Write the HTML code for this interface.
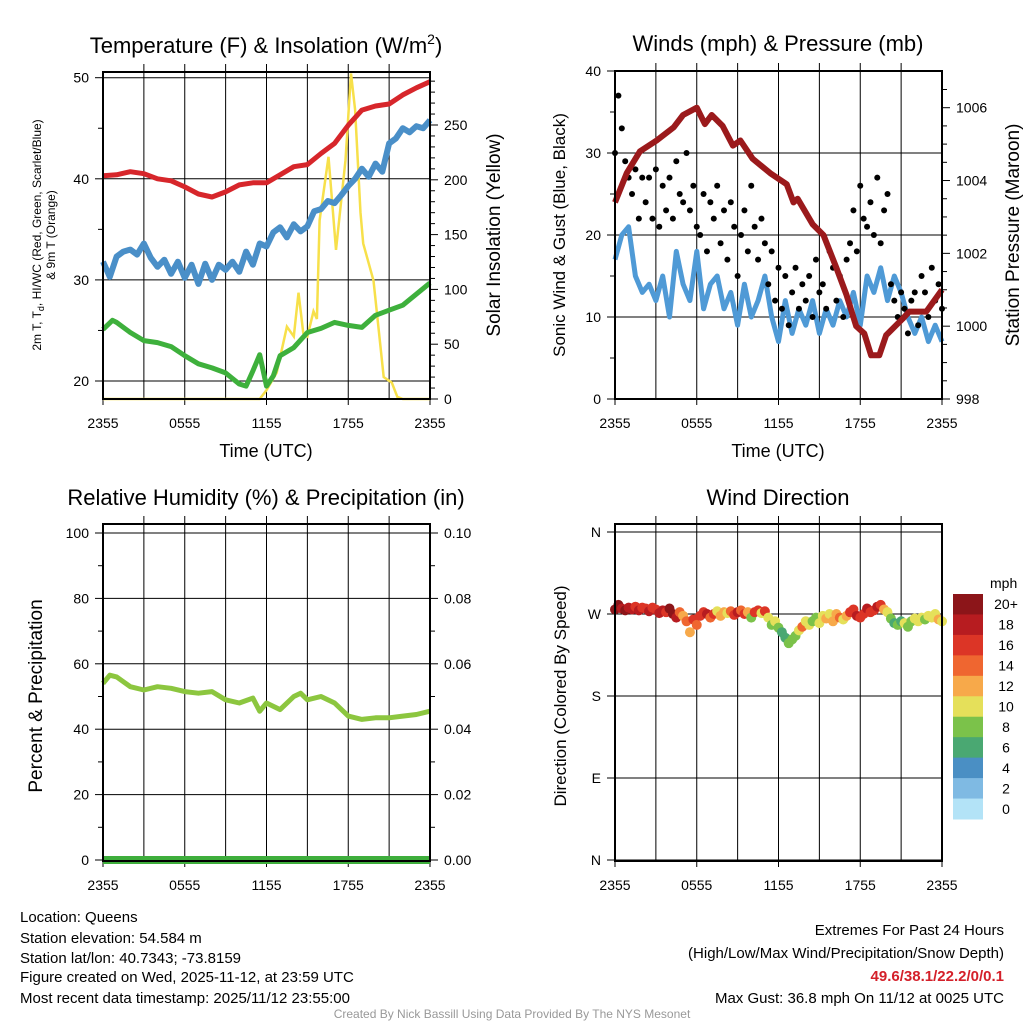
<!DOCTYPE html>
<html><head><meta charset="utf-8"><style>
body{margin:0;background:#fff;width:1024px;height:1024px;overflow:hidden}
svg{font-family:"Liberation Sans",sans-serif}
</style></head><body>
<svg id="s" width="1024" height="1024" viewBox="0 0 1024 1024">
<g id="g"></g>
<text x="266" y="53" font-size="22" text-anchor="middle">Temperature (F) &amp; Insolation (W/m<tspan dy="-9" font-size="14">2</tspan><tspan dy="9">)</tspan></text>
<text x="778" y="51" font-size="22" text-anchor="middle">Winds (mph) &amp; Pressure (mb)</text>
<text x="266" y="505" font-size="22" text-anchor="middle">Relative Humidity (%) &amp; Precipitation (in)</text>
<text x="778" y="505" font-size="22" text-anchor="middle">Wind Direction</text>
<text x="266" y="457" font-size="18" text-anchor="middle">Time (UTC)</text>
<text x="778" y="457" font-size="18" text-anchor="middle">Time (UTC)</text>
<g font-size="12" text-anchor="middle">
<text transform="translate(41,235) rotate(-90)">2m T, T<tspan font-size="9" dy="3">d</tspan><tspan dy="-3">, HI/WC (Red, Green, Scarlet/Blue)</tspan></text>
<text transform="translate(55,235) rotate(-90)">&amp; 9m T (Orange)</text></g>
<text transform="translate(500,235) rotate(-90)" font-size="19" text-anchor="middle">Solar Insolation (Yellow)</text>
<text transform="translate(565,235) rotate(-90)" font-size="17" text-anchor="middle">Sonic Wind &amp; Gust (Blue, Black)</text>
<text transform="translate(1019,235) rotate(-90)" font-size="19" text-anchor="middle">Station Pressure (Maroon)</text>
<text transform="translate(42,696) rotate(-90)" font-size="19" text-anchor="middle">Percent &amp; Precipitation</text>
<text transform="translate(566,696) rotate(-90)" font-size="17" text-anchor="middle">Direction (Colored By Speed)</text>
<text x="990" y="588" font-size="14">mph</text>
<g font-size="15">
<text x="20" y="922">Location: Queens</text>
<text x="20" y="943">Station elevation: 54.584 m</text>
<text x="20" y="963">Station lat/lon: 40.7343; -73.8159</text>
<text x="20" y="982">Figure created on Wed, 2025-11-12, at 23:59 UTC</text>
<text x="20" y="1003">Most recent data timestamp: 2025/11/12 23:55:00</text></g>
<g font-size="15" text-anchor="end">
<text x="1004" y="935">Extremes For Past 24 Hours</text>
<text x="1004" y="958">(High/Low/Max Wind/Precipitation/Snow Depth)</text>
<text x="1004" y="981" fill="#d4202a" font-weight="bold">49.6/38.1/22.2/0/0.1</text>
<text x="1004" y="1003">Max Gust: 36.8 mph On 11/12 at 0025 UTC</text></g>
<text x="512" y="1018" font-size="12" fill="#999" text-anchor="middle">Created By Nick Bassill Using Data Provided By The NYS Mesonet</text>
</svg>
<script>
const hours=[0,0.5,1,1.5,2,2.5,3,3.5,4,4.5,5,5.5,6,6.5,7,7.5,8,8.5,9,9.5,10,10.5,11,11.5,12,12.5,13,13.5,14,14.5,15,15.5,16,16.5,17,17.5,18,18.5,19,19.5,20,20.5,21,21.5,22,22.5,23,23.5,24];
const tempH=[0,1,2,3,4,5,6,7,8,9,10,11,12,13,14,15,16,17,18,19,20,21,22,23,24];
const tempF=[40.3,40.4,40.7,40.5,40.0,39.8,39.2,38.5,38.2,38.7,39.4,39.6,39.6,40.4,41.2,41.4,42.5,43.5,45.3,46.8,47.2,47.4,48.3,49.0,49.6];
const dewF=[31.8,30.3,32.3,32.8,33.0,32.5,33.6,32.2,31.3,32.0,30.6,31.8,30.2,31.5,29.6,31.6,30.0,31.5,31.0,31.8,30.8,32.8,31.5,33.6,33.3,34.7,35.2,34.2,35.5,34.8,35.3,36.8,37.0,37.8,37.6,38.4,39.3,40.0,41.0,40.2,41.5,40.7,43.5,44.0,45.0,44.6,45.2,45.0,45.8];
const wcH=[0,0.7,1,2,3,4,5,6,7,8,9,10,10.5,11,11.5,12,12.5,13,14,15,16,17,18,19,20,21,22,23,24];
const wcF=[25.1,26,25.8,24.8,24,23.8,23.4,22.5,21.7,21.3,20.8,19.7,19.5,21,22.6,19.5,20.5,22.5,23.3,24.8,25.2,25.8,25.5,25.3,26.5,27,27.5,28.6,29.7];
const solarH=[0,11.5,12,12.75,13.5,14,14.35,14.7,15,15.45,15.7,15.9,16.55,17.1,17.8,18.2,18.5,18.9,19.1,19.85,20.6,21.2,21.6,22,24];
const solarW=[0,0,8,24,66,57,97,60,57,80,73,163,221,136,218,297,264,170,142,108,20,15,2,0,0];
const windMph=[17,20,21,15,13,14,12,15,10,18,14,12,18,11,14,15,11,13,9,14,10,12,15,10,7,12,8,11,9,12,8,11,9,12,10,13,9,15,13,16,12,15,13,10,8,10,7,9,7];
const gustMph=[30,37,33,29,27,25,28,22,27,24,27,22,28,21,26,23,27,22,29,25,24,30,23,26,21,20,25,18,24,22,26,19,23,17,24,21,15,20,23,18,26,21,17,22,19,14,18,12,16,11,15,9,13,16,11,14,12,15,10,17,13,14,11,18,16,12,15,10,17,19,23,18,26,22,21,24,20,27,19,23,25,14,12,10,13,11,8,12,13,9,15,13,10,16,12,14,11];
const presH=[0,0.86,1.83,3.05,4.3,5,6,6.6,7.1,7.9,8.65,9.2,10.1,11.4,12.6,13.1,13.4,14.5,15.3,16.25,17,17.7,18.3,18.8,19.4,19.9,21.1,21.6,22.85,24];
const presMb=[1003.4,1004.2,1004.8,1005.1,1005.46,1005.8,1006.0,1005.55,1005.8,1005.5,1004.96,1005.1,1004.6,1004.2,1003.9,1003.4,1003.5,1002.8,1002.5,1001.6,1000.85,1000.0,999.8,999.2,999.2,999.75,1000.2,1000.4,1000.4,1001.0];
const rhH=[0,0.5,1,2,3,4,5,6,7,8,9,10,11,11.5,12,13,14,14.5,15,16,17,18,19,20,21,22,23,24];
const rhPct=[54,56.5,56,53,52,53,52.5,51.5,51,51.5,49,48,49.5,45.5,48,46,50,51,49,50,48,44,43,43.5,43.5,44,44.5,45.5];
const precipIn=[0,0];
const wdirDeg=[275,280,276,274,277,275,278,274,277,276,273,277,275,271,274,272,276,270,266,272,268,262,250,264,258,268,272,270,266,270,273,268,272,271,273,269,272,274,270,272,266,272,274,271,273,266,258,262,255,250,244,238,242,246,252,256,262,258,262,266,260,268,265,270,262,270,266,264,268,272,275,268,266,270,276,272,274,278,280,275,272,265,260,258,262,260,256,262,265,262,266,264,268,266,270,264,262];
const wdirSpd=[20,21,19,20,18,19,17,18,16,17,18,16,17,18,19,17,20,21,18,15,13,14,13,16,15,17,16,18,15,16,11,13,12,11,14,17,18,15,17,12,9,16,17,11,16,10,8,11,9,6,7,8,9,8,10,15,11,11,9,8,10,10,12,11,13,12,15,10,12,16,17,18,16,17,18,16,17,18,17,13,10,8,7,9,6,10,9,8,10,10,11,9,10,10,11,12,10];
const xTickH=[0,6,12,18,24];
const xTickLbl=["2355","0555","1155","1755","2355"];
const binLbl=["20+","18","16","14","12","10","8","6","4","2","0"];
const binCol=["#8c1519","#b71c20","#dc3526","#ef6630","#f7a94a","#e5e05a","#7bc24a","#4aa872","#4a8fc4","#7fbae3","#b3e3f7"];

const NS="http://www.w3.org/2000/svg", G=document.getElementById('g');
function el(t,a,p){const e=document.createElementNS(NS,t);for(const k in a)e.setAttribute(k,a[k]);(p||G).appendChild(e);return e;}
function lin(d0,d1,r0,r1){return v=>r0+(v-d0)/(d1-d0)*(r1-r0);}
function pathOf(xs,ys,fx,fy){return xs.map((x,i)=>(i?'L':'M')+fx(x).toFixed(1)+','+fy(ys[i]).toFixed(1)).join('');}

const P=[{x0:103,x1:430,y0:72,y1:399},{x0:615,x1:942,y0:71,y1:399},{x0:103,x1:430,y0:524,y1:861},{x0:615,x1:942,y0:524,y1:861}];
function frame(p,name){
  const fx=lin(0,24,p.x0,p.x1);
  for(let h=3;h<24;h+=3){const l=el('line',{x1:fx(h),x2:fx(h),y1:p.y0-8,y2:p.y1,stroke:'#000','stroke-width':1});
  }
  xTickH.forEach((h,i)=>{const t=el('text',{x:fx(h),y:p.y1+29,'font-size':14,'text-anchor':'middle'});t.textContent=xTickLbl[i];
  
  el('line',{x1:fx(h),x2:fx(h),y1:p.y1,y2:p.y1+6,stroke:'#000'});});
  return fx;
}
function border(p,name){const r=el('rect',{x:p.x0,y:p.y0,width:p.x1-p.x0,height:p.y1-p.y0,fill:'none',stroke:'#000','stroke-width':2});
}
function yAxis(p,fy,vals,lbls,side,grid,name,minor){
  vals.forEach((v,i)=>{const y=fy(v);
    if(grid)el('line',{x1:p.x0,x2:p.x1,y1:y,y2:y,stroke:'#000'});
    const xa=side<0?p.x0:p.x1;
    el('line',{x1:xa,x2:xa+side*8,y1:y,y2:y,stroke:'#000'});
    const t=el('text',{x:side<0?p.x0-14:p.x1+14,y:y+5,'font-size':14,'text-anchor':side<0?'end':'start'});t.textContent=lbls[i];
    });
  if(minor)minor.forEach(v=>{const y=fy(v);const xa=side<0?p.x0:p.x1;el('line',{x1:xa,x2:xa+side*5,y1:y,y2:y,stroke:'#000'});});
}
// Panel 1
{const p=P[0],fx=frame(p,'temp');const fy=lin(20,50,381,77.7),fs=lin(0,250,399,125);
 el('line',{x1:p.x0,x2:p.x1,y1:p.y0,y2:p.y0,stroke:'#000'});
 yAxis(p,fy,[20,30,40,50],['20','30','40','50'],-1,true,'temp-y',[25,35,45]);
 const mn=[];for(let v=10;v<=290;v+=10)if(v%50)mn.push(v);
 yAxis(p,fs,[0,50,100,150,200,250],['0','50','100','150','200','250'],1,false,'solar-y',mn);
 let e=el('path',{d:pathOf(solarH,solarW,fx,fs),fill:'none',stroke:'#f7e04a','stroke-width':2.5});
 e=el('path',{d:pathOf(tempH,tempF,fx,fy),fill:'none',stroke:'#d7262b','stroke-width':5,'stroke-linejoin':'round'});
 e=el('path',{d:pathOf(hours,dewF,fx,fy),fill:'none',stroke:'#4a8fc8','stroke-width':6,'stroke-linejoin':'round'});
 e=el('path',{d:pathOf(wcH,wcF,fx,fy),fill:'none',stroke:'#3eb03c','stroke-width':5,'stroke-linejoin':'round'});
 border(p,'temp');}
// Panel 2
{const p=P[1],fx=frame(p,'winds');const fy=lin(0,40,399,71),fp=lin(998,1006,399,107.7);
 yAxis(p,fy,[0,10,20,30,40],['0','10','20','30','40'],-1,true,'wind-y',[5,15,25,35]);
 const mn=[];for(let v=998.5;v<1007;v+=0.5)if(v%2)mn.push(v);
 yAxis(p,fp,[998,1000,1002,1004,1006],['998','1000','1002','1004','1006'],1,false,'pressure-y',mn);
 let e=el('path',{d:pathOf(hours,windMph,fx,fy),fill:'none',stroke:'#4f9ad6','stroke-width':5,'stroke-linejoin':'round'});
 gustMph.forEach((g,i)=>{const c=el('circle',{cx:fx(i*0.25),cy:fy(g),r:3,fill:'#000'});
  });
 e=el('path',{d:pathOf(presH,presMb,fx,fp),fill:'none',stroke:'#9b1a1c','stroke-width':6,'stroke-linejoin':'round'});
 border(p,'winds');}
// Panel 3
{const p=P[2],fx=frame(p,'rh');const fy=lin(0,100,860,533),fr=lin(0,0.1,860,533);
 yAxis(p,fy,[0,20,40,60,80,100],['0','20','40','60','80','100'],-1,true,'rh-y',[10,30,50,70,90]);
 yAxis(p,fr,[0,0.02,0.04,0.06,0.08,0.1],['0.00','0.02','0.04','0.06','0.08','0.10'],1,false,'precip-y',[0.01,0.03,0.05,0.07,0.09]);
 let e=el('path',{d:pathOf(rhH,rhPct,fx,fy),fill:'none',stroke:'#8cc63f','stroke-width':5,'stroke-linejoin':'round'});
 e=el('path',{d:pathOf([0,24],precipIn,fx,fr),fill:'none',stroke:'#3eae3c','stroke-width':8});
 border(p,'rh');}
// Panel 4
{const p=P[3],fx=frame(p,'wdir');const fy=lin(0,360,860,532);
 yAxis(p,fy,[0,90,180,270,360],['N','E','S','W','N'],-1,true,'wdir-y');
 const bin=s=>binCol[10-Math.min(10,Math.floor(s/2))];
 wdirDeg.forEach((d,i)=>{const c=el('circle',{cx:fx(i*0.25),cy:fy(d),r:5,fill:bin(wdirSpd[i])});
  });
 border(p,'wdir');
 const h=(819-594)/11;
 binLbl.forEach((l,i)=>{const r=el('rect',{x:953,y:594+i*h,width:30,height:h+0.5,fill:binCol[i]});
  
  const t=el('text',{x:1006,y:594+i*h+h/2+5,'font-size':14,'text-anchor':'middle'});t.textContent=l;
  });}
</script>
</body></html>
